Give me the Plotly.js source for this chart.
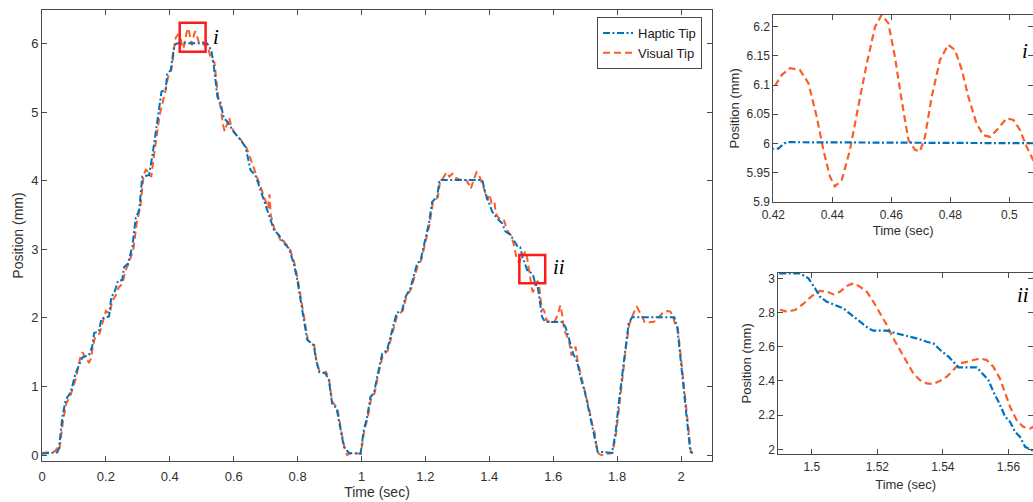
<!DOCTYPE html>
<html>
<head>
<meta charset="utf-8">
<script src="https://cdn.plot.ly/plotly-3.0.1.min.js"></script>
<style>
html,body{margin:0;padding:0;background:#fff;overflow:hidden;}
#chart{width:1033px;height:502px;}
</style>
</head>
<body>
<div id="chart"></div>
<script>
// ---------------- data ----------------
const hapticT = [0.000,0.048,0.053,0.058,0.064,0.074,0.090,0.105,0.118,0.126,0.147,0.157,0.163,0.178,0.186,0.210,0.217,0.226,0.238,0.251,0.257,0.269,0.283,0.293,0.304,0.314,0.335,0.345,0.366,0.374,0.387,0.392,0.403,0.413,0.418,
  0.4217,0.4237,0.4251,0.470,0.517,0.530,0.538,0.549,0.559,0.569,0.580,0.600,0.622,0.637,0.653,0.668,0.684,0.700,0.715,0.726,0.741,0.757,0.773,0.788,0.799,0.809,0.820,0.830,0.851,0.856,0.867,0.887,0.898,0.908,0.922,0.934,0.945,0.961,0.997,
  1.007,1.018,1.028,1.039,1.049,1.065,1.080,1.096,1.110,1.127,1.138,1.153,1.162,1.174,1.185,1.195,1.211,1.221,1.237,1.244,1.378,1.388,1.398,1.409,1.424,1.440,1.450,1.466,1.482,
  1.4898,1.4964,1.499,1.501,1.5025,1.5046,1.5071,1.5096,1.5122,1.5147,1.5173,1.5188,1.5229,1.5259,1.529,1.532,1.5351,1.5371,1.5392,1.5417,1.5432,1.5448,1.5503,1.5524,1.5539,1.5554,1.557,1.559,1.5605,1.562,1.5635,1.5651,1.5671,1.575,
  1.628,1.638,1.648,1.662,1.675,1.685,1.700,1.711,1.722,1.732,1.739,1.784,1.795,1.805,1.815,1.826,1.836,1.847,1.979,1.988,1.998,2.008,2.019,2.029,2.037];
const hapticV = [0.02,0.04,0.10,0.35,0.56,0.80,0.92,1.19,1.35,1.42,1.46,1.58,1.78,1.80,1.99,2.02,2.31,2.36,2.54,2.55,2.74,2.79,3.04,3.45,3.57,4.06,4.08,4.35,5.03,5.30,5.32,5.56,5.61,5.95,5.99,
  5.991,6.000,6.002,6.001,6.000,5.90,5.66,5.22,5.13,4.91,4.86,4.71,4.59,4.49,4.15,4.08,3.86,3.67,3.43,3.28,3.21,3.09,3.01,2.79,2.55,2.26,1.97,1.68,1.60,1.43,1.21,1.19,1.09,0.75,0.68,0.36,0.12,0.03,0.02,
  0.36,0.56,0.85,0.90,1.14,1.48,1.53,1.82,2.07,2.11,2.31,2.43,2.58,2.79,2.84,3.04,3.38,3.69,3.77,4.01,4.01,3.81,3.67,3.55,3.45,3.38,3.26,3.21,3.09,
  3.029,3.029,3.000,2.942,2.893,2.863,2.844,2.825,2.785,2.746,2.708,2.694,2.694,2.678,2.663,2.649,2.629,2.620,2.581,2.542,2.512,2.480,2.480,2.435,2.405,2.337,2.278,2.191,2.161,2.103,2.074,2.015,1.996,1.94,
  1.94,1.87,1.72,1.48,1.36,1.14,0.90,0.66,0.41,0.17,0.05,0.03,0.32,0.75,1.14,1.58,1.92,2.01,2.01,1.87,1.43,0.95,0.46,0.05,0.03];

const visualT = [0.000,0.020,0.040,0.046,0.050,0.055,0.060,0.066,0.076,0.090,0.105,0.115,0.121,0.127,0.135,0.147,0.153,0.158,0.166,0.180,0.190,0.200,0.212,0.220,0.230,0.240,0.252,0.262,0.272,0.286,0.297,0.308,0.318,0.325,0.335,0.342,0.350,0.368,0.378,0.386,0.394,0.405,0.412,0.416,
  0.420,0.4228,0.4257,0.429,0.4319,0.4347,0.437,0.4392,0.4409,0.4432,0.446,0.4488,0.4517,0.4545,0.4567,0.459,0.4612,0.4635,0.4658,0.468,0.4697,0.4714,0.4737,0.4765,0.4793,0.4816,0.4839,0.4861,0.4889,0.4912,0.4935,0.4963,0.4991,0.5014,0.5036,0.5059,0.5081,
  0.512,0.520,0.527,0.534,0.540,0.546,0.552,0.560,0.566,0.572,0.580,0.586,0.592,0.600,0.610,0.622,0.632,0.640,0.648,0.654,0.660,0.672,0.686,0.700,0.708,0.712,0.716,0.727,0.738,0.746,0.752,0.760,0.775,0.790,0.801,0.811,0.822,0.832,0.842,0.852,0.858,0.869,0.880,0.889,0.898,0.908,0.918,0.924,0.936,0.947,0.955,0.962,0.975,0.998,
  1.008,1.020,1.030,1.041,1.051,1.067,1.082,1.098,1.112,1.129,1.140,1.155,1.164,1.176,1.187,1.197,1.213,1.223,1.239,1.246,1.256,1.266,1.275,1.285,1.295,1.310,1.325,1.336,1.342,1.350,1.360,1.368,1.375,1.385,1.393,1.400,1.407,1.416,1.420,1.430,1.445,1.455,1.468,1.478,1.484,
  1.4898,1.4924,1.4949,1.4974,1.500,1.5025,1.5046,1.5066,1.5086,1.5107,1.5127,1.5147,1.5168,1.5188,1.5208,1.5229,1.5249,1.5269,1.529,1.531,1.533,1.5351,1.5371,1.5392,1.5412,1.5432,1.5452,1.5473,1.5493,1.5513,1.5534,1.5554,1.5574,1.559,1.5605,1.5625,1.5645,1.5666,1.5676,
  1.572,1.578,1.585,1.595,1.605,1.615,1.622,1.628,1.634,1.642,1.650,1.657,1.664,1.670,1.676,1.688,1.702,1.713,1.722,1.730,1.736,1.742,1.750,1.770,1.786,1.797,1.807,1.817,1.828,1.838,1.848,1.856,1.862,1.870,1.878,1.886,1.893,1.905,1.914,1.925,1.935,1.946,1.958,1.967,1.975,1.982,1.990,2.000,2.010,2.021,2.031,2.036];
const visualV = [0.03,0.04,0.05,0.09,0.05,0.10,0.30,0.50,0.75,0.88,1.10,1.30,1.45,1.50,1.42,1.35,1.40,1.55,1.72,1.77,1.95,2.10,2.06,2.25,2.32,2.44,2.50,2.70,2.80,3.00,3.40,3.62,4.08,4.16,4.12,4.05,4.35,4.95,5.15,5.30,5.50,5.62,5.85,6.05,
  6.094,6.117,6.129,6.126,6.103,6.046,5.988,5.943,5.926,5.937,5.989,6.063,6.137,6.200,6.220,6.206,6.149,6.074,6.006,5.989,5.986,6.011,6.080,6.143,6.169,6.160,6.126,6.080,6.034,6.014,6.011,6.026,6.043,6.040,6.023,5.994,5.971,
  5.96,5.94,5.80,5.76,5.72,5.45,5.20,5.05,4.82,4.72,4.85,4.92,4.80,4.72,4.65,4.60,4.52,4.48,4.38,4.30,4.20,4.05,3.86,3.70,3.60,3.80,3.50,3.30,3.22,3.14,3.16,3.09,3.02,2.80,2.55,2.26,1.97,1.68,1.62,1.60,1.40,1.21,1.20,1.21,1.12,0.78,0.72,0.70,0.36,0.10,0.00,0.02,0.03,0.02,
  0.34,0.56,0.82,0.90,1.14,1.46,1.52,1.80,2.04,2.10,2.30,2.42,2.56,2.76,2.84,3.03,3.36,3.67,3.76,3.99,4.04,4.12,4.06,4.10,4.04,4.01,4.02,3.95,3.88,4.00,4.12,4.08,4.00,3.86,3.72,3.80,3.68,3.70,3.52,3.45,3.44,3.28,3.20,3.05,2.90,
  2.819,2.805,2.815,2.850,2.896,2.927,2.922,2.906,2.922,2.955,2.971,2.951,2.922,2.863,2.795,2.727,2.649,2.581,2.512,2.444,2.405,2.386,2.382,2.401,2.425,2.464,2.503,2.512,2.522,2.532,2.522,2.483,2.415,2.327,2.249,2.171,2.132,2.122,2.132,
  2.10,1.98,1.94,1.96,1.95,2.05,2.18,2.05,1.82,1.75,1.65,1.45,1.50,1.58,1.38,1.14,0.90,0.66,0.45,0.32,0.12,0.02,0.00,0.02,0.03,0.32,0.75,1.14,1.58,1.90,2.02,2.12,2.16,2.10,2.02,1.94,1.92,1.94,1.94,1.98,2.04,2.09,2.10,2.09,2.02,1.90,1.85,1.43,0.95,0.46,0.05,0.02];

const seriesNames = ['Haptic Tip','Visual Tip'];

const mainXTicks = [0,0.2,0.4,0.6,0.8,1,1.2,1.4,1.6,1.8,2];
const mainXLabels = ['0','0.2','0.4','0.6','0.8','1','1.2','1.4','1.6','1.8','2'];
const mainYTicks = [0,1,2,3,4,5,6];
const mainYLabels = ['0','1','2','3','4','5','6'];

const insetIXTicks = [0.42,0.44,0.46,0.48,0.5];
const insetIXLabels = ['0.42','0.44','0.46','0.48','0.5'];
const insetIYTicks = [5.9,5.95,6,6.05,6.1,6.15,6.2];
const insetIYLabels = ['5.9','5.95','6','6.05','6.1','6.15','6.2'];

const insetIIXTicks = [1.5,1.52,1.54,1.56];
const insetIIXLabels = ['1.5','1.52','1.54','1.56'];
const insetIIYTicks = [2,2.2,2.4,2.6,2.8,3];
const insetIIYLabels = ['2','2.2','2.4','2.6','2.8','3'];

// zoom boxes on main plot: [t0, t1, v0, v1]
const zoomBoxI = [0.431, 0.512, 5.878, 6.300];
const zoomBoxII = [1.494, 1.575, 2.503, 2.915];

// ---------------- style ----------------
const BLUE = '#0072BD';
const ORANGE = '#F95F27';
const AX = '#4a4a4a';
const TXT = '#303030';
const FONT = 'Liberation Sans, Arial, Helvetica, sans-serif';

function lineTraces(xa, ya, w, showLegend) {
  return [
    {x: visualT, y: visualV, name: seriesNames[1], type: 'scatter', mode: 'lines',
     xaxis: xa, yaxis: ya, showlegend: showLegend, legendrank: 2,
     line: {color: ORANGE, width: w, dash: '7px,4px'}},
    {x: hapticT, y: hapticV, name: seriesNames[0], type: 'scatter', mode: 'lines',
     xaxis: xa, yaxis: ya, showlegend: showLegend, legendrank: 1,
     line: {color: BLUE, width: w, dash: '7px,2.5px,2px,2.5px'}}
  ];
}

const data = [].concat(
  lineTraces('x', 'y', 2, true),
  lineTraces('x2', 'y2', 2.2, false),
  lineTraces('x3', 'y3', 2.2, false)
);

function axisBase(tickvals, ticktext, fs) {
  return {
    showline: true, linecolor: AX, linewidth: 1, mirror: 'ticks',
    ticks: 'inside', ticklen: 5, tickcolor: AX, tickwidth: 1,
    showgrid: false, zeroline: false,
    tickmode: 'array', tickvals: tickvals, ticktext: ticktext,
    tickfont: {family: FONT, size: fs, color: TXT}
  };
}

const W = 1033, H = 502;
const px = v => v / W;
const py = v => (H - v) / H;

const layout = {
  width: W, height: H,
  margin: {l: 0, r: 0, t: 0, b: 0, pad: 0},
  paper_bgcolor: '#ffffff', plot_bgcolor: '#ffffff',
  font: {family: FONT, color: TXT},
  showlegend: true,
  legend: {
    x: px(702), xanchor: 'right', y: py(17), yanchor: 'top',
    bgcolor: '#ffffff', bordercolor: AX, borderwidth: 1,
    font: {family: FONT, size: 13, color: '#202020'},
    traceorder: 'normal', tracegroupgap: 0
  },
  xaxis: Object.assign(axisBase(mainXTicks, mainXLabels, 13), {
    domain: [px(42), px(712)], range: [0, 2.097], anchor: 'y', ticklabelstandoff: 3,
    title: {text: 'Time (sec)', font: {family: FONT, size: 14, color: TXT}, standoff: 0}
  }),
  yaxis: Object.assign(axisBase(mainYTicks, mainYLabels, 13), {
    domain: [py(461), py(10)], range: [-0.087, 6.487], anchor: 'x',
    title: {text: 'Position (mm)', font: {family: FONT, size: 14, color: TXT}, standoff: 4}
  }),
  xaxis2: Object.assign(axisBase(insetIXTicks, insetIXLabels, 12), {
    domain: [px(773.3), 1], range: [0.42, 0.50803], anchor: 'y2', ticklabelstandoff: 2,
    title: {text: 'Time (sec)', font: {family: FONT, size: 13, color: TXT}, standoff: 4}
  }),
  yaxis2: Object.assign(axisBase(insetIYTicks, insetIYLabels, 12), {
    domain: [py(201.7), py(15)], range: [5.9, 6.22], anchor: 'x2',
    title: {text: 'Position (mm)', font: {family: FONT, size: 13, color: TXT}, standoff: 3}
  }),
  xaxis3: Object.assign(axisBase(insetIIXTicks, insetIIXLabels, 12), {
    domain: [px(778.3), 1], range: [1.4898, 1.5675], anchor: 'y3', ticklabelstandoff: 2,
    title: {text: 'Time (sec)', font: {family: FONT, size: 13, color: TXT}, standoff: 6}
  }),
  yaxis3: Object.assign(axisBase(insetIIYTicks, insetIIYLabels, 12), {
    domain: [py(454), py(272.7)], range: [1.973, 3.033], anchor: 'x3',
    title: {text: 'Position (mm)', font: {family: FONT, size: 13, color: TXT}, standoff: 3}
  }),
  shapes: [
    {type: 'rect', xref: 'x', yref: 'y', x0: zoomBoxI[0], x1: zoomBoxI[1], y0: zoomBoxI[2], y1: zoomBoxI[3],
     line: {color: '#ff1a1a', width: 2.5}},
    {type: 'rect', xref: 'x', yref: 'y', x0: zoomBoxII[0], x1: zoomBoxII[1], y0: zoomBoxII[2], y1: zoomBoxII[3],
     line: {color: '#ff1a1a', width: 2.5}}
  ],
  annotations: [
    {text: '<i>i</i>', xref: 'x', yref: 'y', x: 0.546, y: 6.10, showarrow: false,
     font: {family: 'Liberation Serif, Times New Roman, serif', size: 21, color: '#000'}},
    {text: '<i>ii</i>', xref: 'x', yref: 'y', x: 1.618, y: 2.745, showarrow: false,
     font: {family: 'Liberation Serif, Times New Roman, serif', size: 21, color: '#000'}},
    {text: '<i>i</i>', xref: 'paper', yref: 'paper', x: px(1020), xanchor: 'left', y: py(36.7), showarrow: false,
     font: {family: 'Liberation Serif, Times New Roman, serif', size: 21, color: '#000'}},
    {text: '<i>ii</i>', xref: 'paper', yref: 'paper', x: px(1015), xanchor: 'left', y: py(295), showarrow: false,
     font: {family: 'Liberation Serif, Times New Roman, serif', size: 21, color: '#000'}}
  ]
};

Plotly.newPlot('chart', data, layout, {displayModeBar: false, staticPlot: true});
</script>
</body>
</html>
